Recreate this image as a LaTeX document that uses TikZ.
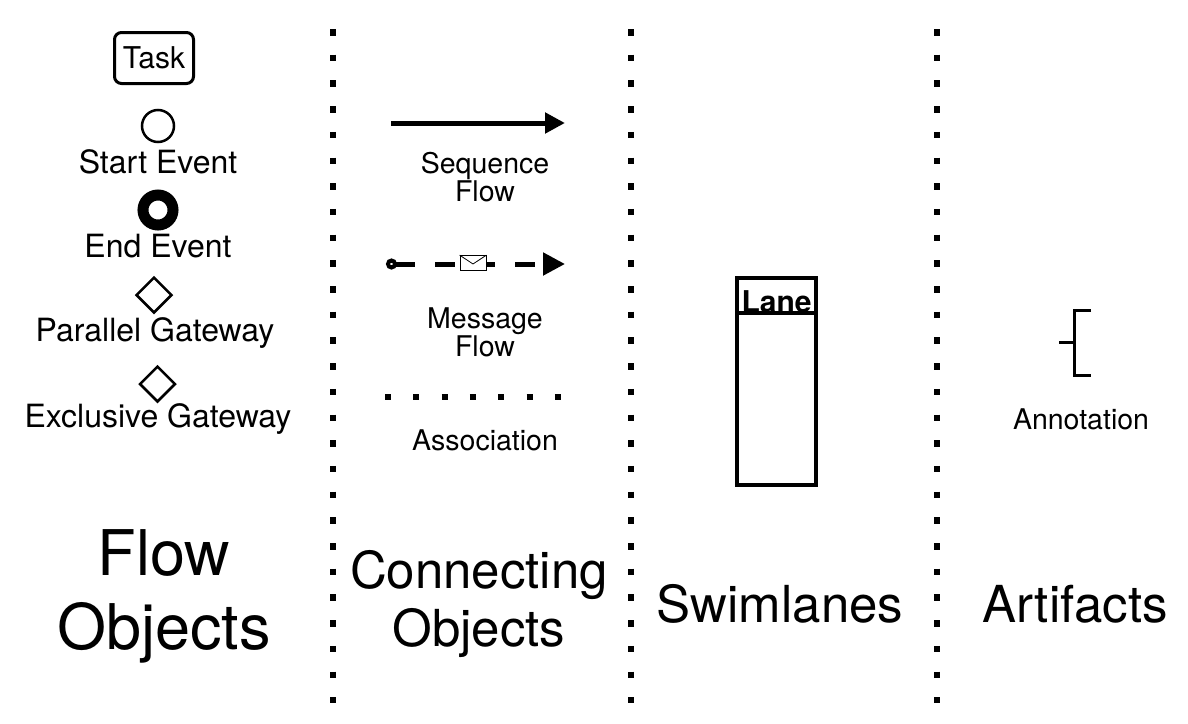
\documentclass[tikz,border=0pt]{standalone}
\usepackage{fontspec}
\setmainfont{TeX Gyre Heros}
\usetikzlibrary{arrows.meta,shapes.geometric}
\tikzstyle{task} = [rectangle, draw, line width=3pt, rounded corners=7pt, minimum width=79pt, minimum height=51pt, inner sep=0pt, font=\fontsize{30}{30}\selectfont]
\tikzstyle{txt} = [align=center, inner sep=0pt, font=\fontsize{32}{32}\selectfont]
\tikzstyle{small} = [align=center, inner sep=0pt, font=\fontsize{28.5}{28}\selectfont]
\tikzstyle{title} = [align=center, inner sep=0pt, font=\fontsize{51}{58}\selectfont]
\tikzset{
  startev/.style = {circle, draw, line width=2.5pt, minimum size=32pt, inner sep=0pt},
  endev/.style = {circle, draw, line width=11pt, minimum size=30pt, inner sep=0pt},
  gateway/.style = {diamond, draw, line width=2.5pt, minimum width=36pt, minimum height=36pt, inner sep=0pt},
  seqflow/.style = {line width=5pt, -{Triangle[length=20pt,width=20pt]}},
  msgflow/.style = {line width=5pt, dash pattern=on 20pt off 20pt,
    {Circle[open,length=11pt,width=11pt,line width=4pt]}-{Triangle[length=22pt,width=22pt]}},
  assoc/.style = {line width=6pt, dash pattern=on 6pt off 22.33pt},
  divider/.style = {line width=6.5pt, dash pattern=on 6.5pt off 19.2pt},
  envelope/.style = {rectangle, draw, fill=white, line width=0.8pt, minimum width=26pt, minimum height=15pt, inner sep=0pt},
  lane/.style = {rectangle, draw, line width=4pt, minimum width=79pt, minimum height=207pt, inner sep=0pt},
  bracket/.style = {line width=3pt},
}

\begin{document}
\begin{tikzpicture}[x=1pt, y=-1pt]
    \useasboundingbox (0,0) rectangle (1188,723);

    % dividers
    \foreach \x in {333,631,937}
        \draw[divider] (\x,29) -- (\x,703);

    % flow objects
    \node[task] (task) at (154,58) {Task};
    \node[startev] (start) at (158,126) {};
    \node[txt] (startlbl) at (158,162) {Start Event};
    \node[endev] (end) at (158,210) {};
    \node[txt] (endlbl) at (158,246) {End Event};
    \node[gateway] (pgw) at (154,295) {};
    \node[txt] (pgwlbl) at (155,333) {Parallel Gateway};
    \node[gateway] (xgw) at (157.5,384) {};
    \node[txt] (xgwlbl) at (158,419) {Exclusive Gateway};
    \node[title, font=\fontsize{63}{74}\selectfont] (flowobj) at (164,596) {Flow\\Objects};

    % connecting objects
    \coordinate (s1) at (391,123);
    \coordinate (s2) at (565,123);
    \draw[seqflow] (s1) -- (s2);
    \node[small] (seqlbl) at (485,177) {Sequence\\Flow};

    \coordinate (m1) at (386,264);
    \coordinate (m2) at (565,264);
    \draw[msgflow] (m1) -- (m2);
    \node[envelope] (msg) at (473,263) {};
    \draw[line width=0.8pt] (msg.north west) -- ([yshift=-1pt]msg.center) -- (msg.north east);
    \node[small] (msglbl) at (485,332) {Message\\Flow};

    \coordinate (a1) at (385,397);
    \coordinate (a2) at (561,397);
    \draw[assoc] (a1) -- (a2);
    \node[small] (assoclbl) at (485,440) {Association};
    \node[title] (connobj) at (479,604) {Connecting\\Objects};

    % swimlanes
    \node[lane] (lane) at (776.5,381.5) {};
    \draw[line width=4pt] (lane.north west) ++(0,37) -- ++(79,0);
    \node[inner sep=0pt, font=\fontsize{30}{30}\selectfont\bfseries] (lanelbl) at (776.5,302) {Lane};
    \node[title] (swim) at (780,604) {Swimlanes};

    % artifacts
    \draw[bracket] (1091,310) -- (1074,310) -- (1074,375) -- (1091,375);
    \draw[bracket] (1059,342) -- (1074,342);
    \node[small] (annolbl) at (1081,419) {Annotation};
    \node[title] (artif) at (1075,604) {Artifacts};
\end{tikzpicture}
\end{document}
